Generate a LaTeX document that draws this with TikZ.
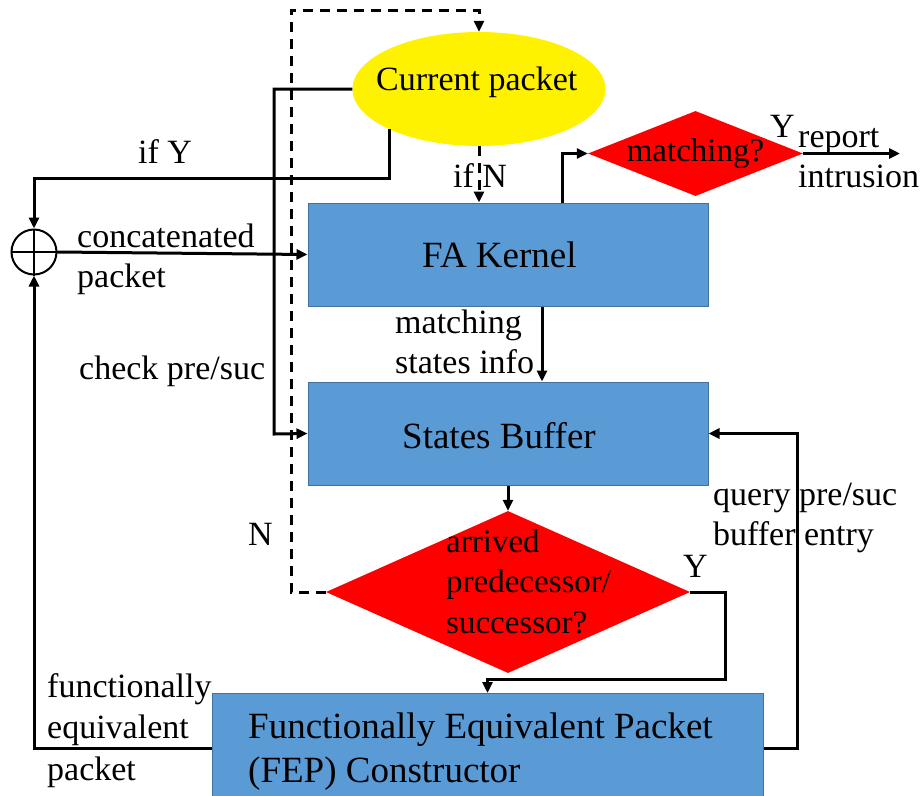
\documentclass[tikz,border=0pt]{standalone}
\usepackage{fontspec}
\setmainfont{Liberation Serif}
\usetikzlibrary{arrows.meta,shapes.geometric}
\definecolor{boxblue}{HTML}{5B9BD5}
\definecolor{boxedge}{HTML}{41719C}
\begin{document}
\begin{tikzpicture}[x=1pt,y=-1pt,
  box/.style={rectangle, fill=boxblue, draw=boxedge, line width=1pt, inner sep=0pt},
  boxtext/.style={inner sep=0pt, align=left, font=\fontsize{37}{44}\selectfont},
  dec/.style={diamond, fill=red, inner sep=0pt, font=\fontsize{33}{40}\selectfont},
  lbl/.style={inner sep=0pt, align=left, font=\fontsize{34}{40}\selectfont},
  flow/.style={line width=3pt, -{Triangle[length=11pt,width=10pt]}},
  flowdash/.style={flow, dash pattern=on 10pt off 7pt}]
\useasboundingbox (0,0) rectangle (922,796);
\clip (0,0) rectangle (922,796);

% blocks
\node[ellipse, fill=yellow, minimum width=253pt, minimum height=114pt, inner sep=0pt] (cur) at (479,89) {};
\node[lbl, anchor=base west] (curt) at (376,90) {Current packet};
\node[box, minimum width=400pt, minimum height=103pt] (fa) at (508,254.5) {};
\node[boxtext, anchor=base west] (fat) at (422,267) {FA Kernel};
\node[box, minimum width=400pt, minimum height=103pt] (sb) at (508,433.5) {};
\node[boxtext, anchor=base west] (sbt) at (402,448) {States Buffer};
\node[box, anchor=north, minimum width=551pt, minimum height=109pt] (fep) at (487.5,693) {};
\node[boxtext, anchor=base west] (fept) at (248,782) {Functionally Equivalent Packet\\(FEP) Constructor};
\node[dec, minimum width=215pt, minimum height=85pt] (m) at (695.5,153.5) {\makebox[0pt]{matching?}};
\node[dec, minimum width=364pt, minimum height=162pt] (q2) at (508,592) {};
\node[lbl, font=\fontsize{33}{40.5}\selectfont, anchor=base west] (q2t) at (446,633) {arrived\\predecessor/\\successor?};

% concatenation point
\node[circle, draw, line width=2pt, minimum size=45pt, inner sep=0pt] (sum) at (34,252) {};
\draw[line width=2pt] (sum.north) -- (sum.south) (sum.west) -- (sum.east);

% helper points
\coordinate (dtop) at (291,10);
\coordinate (ck) at (274,434);
\coordinate (ify) at (34,178);
\coordinate (rep) at (900,153.5);
\coordinate (yc) at (725,679);
\coordinate (qc) at (797,433.5);

% labels (anchored at the baseline of the last line)
\node[lbl, anchor=base west] (lifY) at (138,163) {if Y};
\node[lbl, anchor=base west] (lcat) at (77,287) {concatenated\\packet};
\node[lbl, anchor=base west] (lchk) at (79,379) {check pre/suc};
\node[lbl, anchor=base west] (lms) at (395,373) {matching\\states info};
\node[lbl, anchor=base west] (lifN) at (453,187) {if N};
\node[lbl, anchor=base west] (lN) at (248,545) {N};
\node[lbl, anchor=base west] (lY1) at (770,137) {Y};
\node[lbl, anchor=base west] (lrep) at (798,187) {report\\intrusion};
\node[lbl, anchor=base west] (lY2) at (683,577) {Y};
\node[lbl, anchor=base west] (lq) at (713,545) {query pre/suc\\buffer entry};
\node[lbl, font=\fontsize{34}{41.5}\selectfont, anchor=base west] (lfe) at (47,780) {functionally\\equivalent\\packet};

% connectors
\draw[flowdash] (q2.west) -| (dtop) -| (cur.north);
\draw[flowdash] (cur.south) -- (cur.south |- fa.north);
\draw[flow] (cur.west) -| (ck) -- (sb.west);
\draw[flow] (cur.south west) |- (ify) -- (sum.north);
\draw[flow] (sum.east) -- (fa.west);
\draw[flow] ([xshift=54pt]fa.north) |- (m.west);
\draw[flow] (m.east) -- (rep);
\draw[flow] ([xshift=34pt]fa.south) -- ([xshift=34pt]sb.north);
\draw[flow] (sb.south) -- (q2.north);
\draw[flow] (q2.east) -| (yc) -| (fep.north);
\draw[flow] (fep.east) -| (qc) -- (sb.east);
\draw[flow] (fep.west) -| (sum.south);
\end{tikzpicture}
\end{document}
